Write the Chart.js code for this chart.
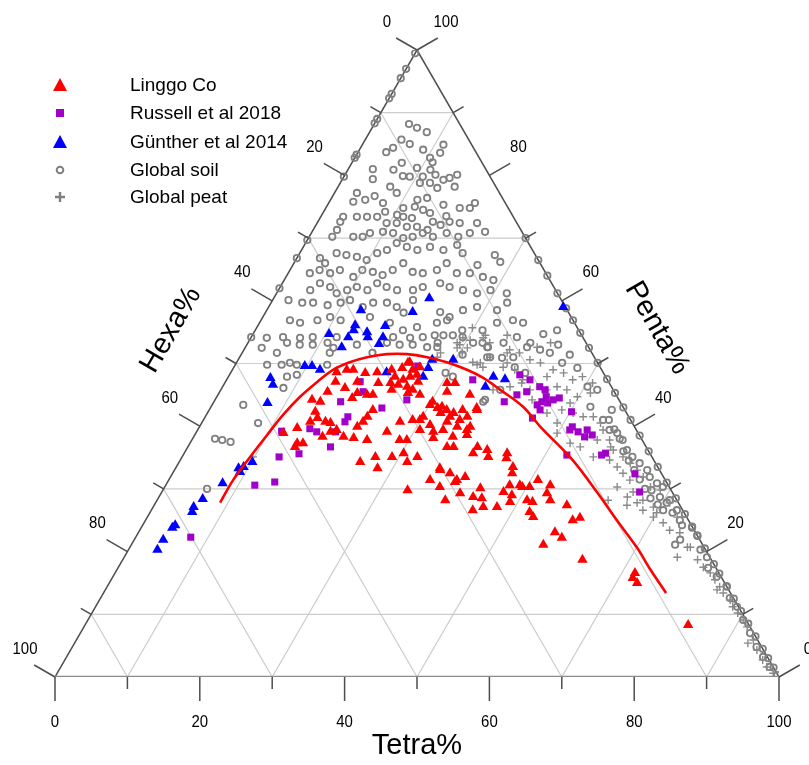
<!DOCTYPE html>
<html>
<head>
<meta charset="utf-8">
<title>Ternary plot</title>
<script src="https://cdn.jsdelivr.net/npm/chart.js@4.4.0/dist/chart.umd.min.js"></script>
<style>
  html, body { margin: 0; padding: 0; background: #fff; }
  #wrap { width: 809px; height: 765px; }
</style>
</head>
<body>
<div id="wrap"><canvas id="ternary" width="809" height="765"></canvas></div>
<script>
// every point is [Tetra%, Penta%]; Hexa% = 100 - Tetra - Penta
const linggoCo = [
  [14.6,48.6],[15.8,49],[16.7,49],[15.2,47.1],[14.9,45.5],[17,46.1],[18.2,47.1],[19.1,45.3],[20.6,45],[18.6,48.5],
  [20.2,48.6],[21.2,46.9],[21.4,45],[22,49],[23,47.9],[23.3,49.3],[23.7,50.1],[24.9,49],[25.9,48.2],[24.4,47.4],
  [25.5,46.3],[23.6,45.8],[26.1,45.3],[26.5,45.8],[27.9,45],[22.9,46.9],[24.1,46.6],[26.6,47.1],[25.1,47.9],[23.9,50.2],
  [25.7,49.4],[13.4,44.2],[14.7,43.9],[18.8,44.5],[14.8,42.3],[14.9,40.7],[15.6,41.3],[17,40.7],[17.8,40.5],[19.2,39.4],
  [18.5,39.1],[17.8,38.3],[20.7,38.3],[21.8,39.9],[22.2,40.7],[22.4,41.5],[22.6,42.6],[22.2,38.1],[24.2,37.8],[13.6,39.7],
  [12.1,38.9],[14.8,37.3],[15.6,37.3],[14.8,36.7],[26.3,39.1],[27.3,40.7],[29.7,37.8],[28.7,37.8],[28.9,41],[29.9,41],
  [30.1,41.5],[30.1,43.4],[31.4,42.9],[32.2,42.1],[32.8,42.6],[34,42.1],[35.4,41],[36.2,41.5],[37.4,39.9],[37.6,38.6],
  [31.7,40.2],[32.7,39.1],[30.7,39.4],[33.8,40.7],[33.9,39.4],[33.2,38.1],[35.8,36.7],[36.7,36.7],[37,42.6],[34.8,45],
  [30.7,46.9],[31.8,46.9],[31.4,45.5],[25,34.3],[26.7,35.1],[29,35.1],[30.3,35.7],[31.5,34.3],[32.5,35.1],[27.9,33.3],
  [36.5,33.3],[38.3,32.5],[40.7,31.9],[36.1,31.4],[38,30.3],[39.7,31.1],[33.8,29.8],[41.3,29.3],[39.8,28.2],[43.4,28.7],
  [43.7,30.1],[40,36.7],[41.6,36.2],[42.3,35.1],[44.6,35.7],[46.5,33.5],[46.9,32.5],[47.5,30.6],[47.2,29.5],[48.6,29],
  [48.9,30.6],[45.6,27.1],[44.4,26.6],[30.2,43.9],[31.9,43.1],[35,42.6],[36.8,42.9],[33.8,41.5],[35.6,39.9],[37.2,39.4],
  [35.8,38.3],[39.9,35.7],[44.9,34.9],[36.7,33],[39.8,31.4],[44.7,28.5],[47.5,27.1],[50.4,30.3],[51,31.4],[53.1,30.6],
  [51.1,28.2],[52,27.9],[53.3,29.3],[54.3,28.2],[52.4,26.3],[57,27.4],[59,25],[59.8,25.4],[49.4,30.3],[48.9,27.9],
  [53.3,25.5],[57.5,23.1],[58.9,22.2],[56.9,21.1],[63.5,18.7],[71.8,16.6],[71.9,15.8],[72.9,15],[83.3,8.3]
];

const russell2018 = [
  [25.3,49.6],[18.6,47.1],[19.8,45.5],[17.5,43.9],[23.7,42.9],[19.7,41.5],[19.7,40.7],[11.7,39.2],[15.4,39.6],[16.6,39.1],
  [19.2,39.1],[19.7,36.7],[13.4,35.1],[15.9,35.6],[12.3,30.6],[14.8,31.1],[7.6,22.3],[34,47.4],[40.1,48.2],[41.9,47.4],
  [41.3,45],[40.1,43.9],[42.4,45.5],[43.8,46.3],[44.8,45.8],[45.5,44.7],[45.3,43.9],[44.9,43.4],[45.7,42.6],[46.2,43.7],
  [46.7,44.2],[47.4,44.5],[45.3,41.3],[50.2,42.3],[51.4,39.4],[51.5,39.9],[52.7,39.1],[53.8,39.4],[54,38.3],[54.9,38.6],
  [53,35.4],[57.8,35.4],[58.2,35.7],[63.9,32.4],[66,29.5],[26.5,44.2]
];

const gunther2014 = [
  [21.5,60.4],[20.3,58.2],[13,58.5],[13.4,56.1],[13.6,55.3],[13.4,54.2],[10.5,54.7],[13.3,52.6],[15.6,55],[16.1,54.2],
  [17.6,56],[18.2,54.2],[18.2,53.1],[29.7,50.6],[26.8,50.6],[9.7,49.6],[10.7,49.6],[12.1,49],[5.9,47.7],[6.8,46.6],
  [7.5,43.7],[21.5,48.6],[26.9,47.9],[26.9,49.3],[36.6,47.9],[38.4,47.5],[36.3,46.3],[10.1,34.3],[9.3,33.5],[9.2,32.7],
  [7.7,30.9],[6.2,28.4],[8.7,33.3],[5.6,27.1],[5.8,26.3],[4.5,24.2],[4.3,23.8],[4,21.9],[4,20.3],[40.7,59]
];

const globalSoil = [
  [4.8,88.2],[6.2,87.6],[7.9,86.9],[5,85.7],[11.2,84.9],[6.5,85],[4.5,84.4],[3.9,83.7],[11.4,83.6],[8.8,84.1],
  [10.4,82.8],[11.1,82.1],[6.9,82],[9.4,81.2],[11.4,80.9],[3.4,81],[6.3,80.9],[8.1,79.9],[9.1,79.8],[10.9,79.8],
  [12.5,80.1],[14.7,79.6],[15.5,80.1],[14,79.3],[4.2,79.4],[11,78.8],[12.4,78.8],[13.8,78],[16.1,78.2],[7.2,78.2],
  [8.6,77.2],[3.1,77.2],[5.8,76.7],[4.8,76.1],[3.3,75.8],[7.5,75.6],[12,76.1],[13.2,76.4],[16,75.3],[18.5,74.8],
  [20.2,75.6],[19.9,74.8],[8.5,74.2],[10.7,74.8],[12.2,75],[13.6,74.5],[10.4,73.7],[11.4,73.4],[12.7,73.2],[14.8,74],
  [15.9,72.6],[17.3,73.5],[5,73.4],[6.4,73.4],[7.8,73.4],[3.1,73.4],[3.1,72.6],[9.6,72.4],[11,72.4],[12.7,71.8],
  [14.1,71.8],[15.8,71.3],[17.2,72.1],[18.2,72.6],[19.7,72.4],[22.1,72.4],[23.9,71],[21.9,70.8],[20.6,70.2],[18.7,70.8],
  [17.1,70.2],[15.4,70.8],[14.3,70.2],[13.1,70],[11.3,70.8],[9.8,71],[8.1,70.8],[7.4,70.2],[6.1,70.2],[3.3,71.3],
  [3.2,70.2],[3.2,66.8],[4.3,66],[5.1,67.6],[6.6,67.3],[8.2,67],[9.8,66.5],[10.7,67.6],[11.8,68.1],[12.6,69.2],
  [14.3,68.6],[16,68.1],[17.5,68.6],[19.6,68.1],[21.1,68.9],[22.5,67.6],[25.5,65.7],[27.1,67.3],[28.4,66.2],[4.1,64.9],
  [5.8,64.4],[6.9,64.9],[9.3,63.8],[10,64.9],[11.6,64.6],[13.2,64.1],[14.2,64.9],[15.1,66],[17.1,64.6],[18.6,64.4],
  [20.3,64.9],[21.1,66],[23.3,64.4],[25.1,64.4],[27.2,63.8],[28.9,63.3],[3,64.4],[4.4,61.7],[5.2,62.8],[6.9,62.2],
  [8.3,61.2],[9.5,61.7],[10.6,62.2],[12.3,61.7],[13.1,62.8],[14.7,62.2],[16.4,61.7],[18.6,61.7],[19.7,62.2],[21.8,62.8],
  [23.4,62.2],[25.5,61.7],[27.7,61.2],[29.3,61.7],[31.8,61.2],[2.2,60.1],[4.3,59.7],[5.8,59.7],[8,59.3],[9.6,59.7],
  [10.7,60.1],[13,59],[14.1,59.7],[16,59.7],[17.7,59],[19.4,60.1],[19.1,58.1],[24.1,58.2],[25.8,57.4],[27.1,58.5],
  [28.8,59],[31.8,58.5],[32.6,59.7],[4,56.9],[5.6,56.5],[7.8,56.9],[9.3,57.4],[11,56.9],[14.8,57.4],[18,56.5],
  [20.4,55.3],[22.1,55.8],[24.5,56.5],[25.7,56.9],[28.6,55.3],[31.4,55.3],[32.8,56.5],[34.8,56.9],[36.4,56.5],[2.2,54.1],
  [4.4,54.2],[6.8,54.1],[8.5,54.2],[11,53.3],[11.8,54.2],[19.6,54.2],[22,54.1],[23.7,54.2],[26.2,53.3],[31.1,53.3],
  [33.4,52.6],[35.3,53.3],[36.7,54.2],[39,53.3],[40.9,52.2],[42.5,51.7],[41.7,55.3],[2.3,52.5],[4.8,51.7],[12.1,51.7],
  [18,51.7],[30.6,51.4],[4.4,49.8],[7.4,50.1],[6.4,49.8],[8.5,49.8],[8.1,47.9],[9.3,48.2],[8.5,46.1],[4.3,43.4],
  [7.8,40.5],[3.1,38],[4.2,37.8],[5.5,37.5],[6,30],[5.4,53.3],[7.3,53],[9.1,53],[12.7,49.8],[12.2,52.5],
  [15.2,53],[19.2,53.3],[21.1,53],[22.9,53],[25.1,52.6],[26.5,52.6],[29.7,48.5],[31,47.9],[32.4,53.3],[34.2,51],
  [38.6,45.8],[37.2,43.9],[38.8,49.4],[37.8,51],[40.7,48.5],[25.2,54.5],[26.4,54.5],[27.7,54.5],[29.2,54.2],[33.5,52.6],
  [34.6,51],[36.3,50.9],[38.9,52.6],[40.1,54.7],[43,53],[45.4,51.4],[45,50.1],[47.5,49.3],[50.4,46.3],[52,45.8],
  [52.4,43.1],[55.2,41],[55.6,42.6],[56.9,39.4],[58.2,38.9],[59.5,37.8],[60.9,36.2],[62.2,35.1],[63.7,34.1],[65.3,33],
  [66.2,31.9],[67.7,30.9],[68.8,30.3],[69.2,28.7],[70.8,28.2],[72.6,26.6],[70.7,26.6],[73.8,25],[37.3,44.2],[67.5,29.8],
  [70.6,27.8],[72.2,26.2],[74.5,24.2],[75.1,21.1],[75.4,21.9],[76.1,23.8],[77.4,22.6],[79,20.3],[80.5,19.1],[81.5,17.4],
  [83.4,16],[85.6,14.4],[86.9,12.6],[88.6,11.2],[90.5,9.1],[92.5,7],[94.5,4.8],[96.2,3.2],[97.9,1.6],[99.6,0.3],
  [56,41],[57.5,39.5],[59,38],[60.5,36],[62,34.5],[63.5,33],[65,31.5],[66.5,30],[68,28.5],[69.5,27.5],
  // sitting on the Tetra = 0 edge
  [0,99.5],[0,97],[0,95.5],[0,93],[0,92.3],[0,89],[0,88.3],[0,83.3],[0,82.8],[0,79.8],[0,69.7],[0,66.8],[0,62],[0,54.2],
  // sitting on the Hexa = 0 edge
  [30,70],[33.5,66.5],[36,64],[38.8,61.2],[41.2,58.8],[43.1,56.9],[45.1,54.9],[47.5,52.5],[49.9,50.1],[52.5,47.5],
  [54.7,45.3],[57,43],[59,41],[61.5,38.5],[64,36],[66.5,33.5],[69,31],[71.5,28.5],[74,26],[76,24],
  [77.5,22.5],[79.5,20.5],[82,18],[83.5,16.5],[85.5,14.5],[87.5,12.5],[89.5,10.5],[91.5,8.5],[93.5,6.5],[95.5,4.5],
  [97,3],[98.5,1.5]
];

const globalPeat = [
  [29.8,55.7],[29.3,54.1],[32.2,54.5],[28.9,53.3],[36.6,51.7],[40.3,52.6],[41.8,53.3],[29.3,52.5],[30.7,52.5],[33.4,49.8],
  [34.4,49.4],[34.6,51],[37.2,49.4],[39.7,46.3],[41,46.9],[37.6,45.8],[27.4,51.7],[30.4,51.7],[32.6,50.2],[33.7,50.1],
  [35.2,54.5],[37.4,50.1],[39,49],[40.9,47.4],[42.7,45.8],[43.8,44.2],[45,45.8],[46.9,42.1],[49.1,40.5],[48.7,42.6],
  [49.3,43.7],[49.8,44.7],[51.3,45.3],[50.8,46.9],[49.9,38.9],[52.5,37.3],[54.2,36.7],[54.4,38.3],[56,37.8],[58.4,36.7],
  [56.8,35.1],[59.3,34.6],[60.9,33.5],[62.2,32.5],[63.7,31.4],[62.5,30.3],[64.7,28.7],[66.5,27.8],[67.9,26.6],[69.9,25.5],
  [71.7,24.6],[27.3,51],[30.5,53.7],[29.4,53],[32.1,54.1],[33.4,53.3],[36.7,52.2],[38.3,51.7],[40.3,50.6],[42,50.1],
  [44.3,49],[46,48.5],[47.8,47.4],[48.9,47.9],[44,47.9],[46.2,46.3],[47.8,45.8],[50.5,42.1],[52.2,41.5],[53.6,41.5],
  [55.1,40.5],[56,39.4],[57.7,37.8],[59,36.2],[60.9,35.1],[62.4,34.1],[63.9,33],[65.3,31.9],[67.1,30.3],[68.7,29.8],
  [71,27.8],[73.2,25.5],[65.3,27.4],[62.3,28.2],[65.1,29.5],[67.1,28.2],[69.1,27.1],[70,26.2],[73.2,23.4],[74.8,23],
  [77,20.7],[76.4,19.1],[77.4,20.7],[79.4,18.7],[80.8,17.5],[82.2,16.6],[83.4,15.5],[84.6,14.4],[85.6,13.4],[87.1,12.3],
  [88,11.2],[89.2,10.2],[90.5,9.1],[91.6,8],[93,5.4],[93.5,5.9],[94.8,4.3],[96.4,2.7],[97.5,1.6],[98.9,0.6],
  [84.5,13.9],[9.8,35.1]
];

// red fitted curve through the Linggo Co samples
const fitCurve = [
  [8.9,27.8],[8.9,31.4],[9.4,35.1],[10,38.6],[10.6,41.8],[11.5,44.7],[12.7,47.1],[13.9,49],[15.6,50.2],[17.6,51],
  [20.1,51.5],[22.9,51.5],[25.9,51],[29,50.2],[32.4,49],[35.3,47.7],[38.6,45.8],[43.1,43.1],[47.1,39.9],[54.2,34.6],
  [60.1,29.5],[65.1,25],[70.1,20.6],[73.7,17.1],[77.7,13.4]
];

const tickValues = [0, 20, 40, 60, 80, 100];
const minorValues = [10, 30, 50, 70, 90];
const legendLabels = ['Linggo Co', 'Russell et al 2018', 'Günther et al 2014', 'Global soil', 'Global peat'];

const SIN60 = Math.sqrt(3) / 2;
const toXY = ([t, p]) => ({ x: t + p / 2, y: p * SIN60 });

function lineSet(a, b, color, width, order) {
  return {
    type: 'line', data: [toXY(a), toXY(b)], borderColor: color, borderWidth: width,
    pointRadius: 0, fill: false, order: order
  };
}

const gridSets = [];
minorValues.forEach(v => {
  gridSets.push(lineSet([0, v], [100 - v, v], '#cccccc', 1.2, 20));   // Penta const
  gridSets.push(lineSet([v, 0], [v, 100 - v], '#cccccc', 1.2, 20));   // Tetra const
  gridSets.push(lineSet([100 - v, 0], [0, 100 - v], '#cccccc', 1.2, 20)); // Hexa const
});

const frameSets = [
  lineSet([0, 0], [100, 0], '#8c8c8c', 2.6, 15),
  lineSet([0, 0], [0, 100], '#4d4d4d', 1.5, 15),
  lineSet([100, 0], [0, 100], '#4d4d4d', 1.5, 15)
];

const ternaryAxes = {
  id: 'ternaryAxes',
  afterDraw(chart) {
    const { ctx, scales: { x, y } } = chart;
    const px = (t, p) => [x.getPixelForValue(t + p / 2), y.getPixelForValue(p * SIN60)];
    ctx.save();
    ctx.strokeStyle = '#4d4d4d';
    ctx.lineWidth = 1.5;
    const all = tickValues.concat(minorValues);
    all.forEach(v => {
      const len = v % 20 === 0 ? 24 : 12;
      let a = px(v, 0);
      ctx.beginPath(); ctx.moveTo(a[0], a[1]); ctx.lineTo(a[0], a[1] + len); ctx.stroke();
      a = px(0, 100 - v);
      ctx.beginPath(); ctx.moveTo(a[0], a[1]); ctx.lineTo(a[0] - len * SIN60, a[1] - len * 0.5); ctx.stroke();
      a = px(100 - v, v);
      ctx.beginPath(); ctx.moveTo(a[0], a[1]); ctx.lineTo(a[0] + len * SIN60, a[1] - len * 0.5); ctx.stroke();
    });

    // tick labels, slightly narrow like the original
    ctx.fillStyle = '#000';
    ctx.font = '17px "Liberation Sans", Arial, sans-serif';
    ctx.textAlign = 'center';
    ctx.textBaseline = 'middle';
    const narrow = (txt, cx, cy) => {
      ctx.save(); ctx.translate(cx, cy); ctx.scale(0.88, 1); ctx.fillText(txt, 0, 0); ctx.restore();
    };
    tickValues.forEach(v => {
      let a = px(v, 0);
      narrow(String(v), a[0], 722);
      a = px(0, 100 - v);
      narrow(String(v), a[0] - 30, a[1] - 28);
      a = px(100 - v, v);
      narrow(String(v), a[0] + 29, a[1] - 28);
    });

    // axis titles
    ctx.font = '29px "Liberation Sans", Arial, sans-serif';
    ctx.fillText('Tetra%', 417, 746);
    ctx.save(); ctx.translate(171, 330); ctx.rotate(-Math.PI / 3); ctx.fillText('Hexa%', 0, 0); ctx.restore();
    ctx.save(); ctx.translate(657, 328); ctx.rotate(Math.PI / 3); ctx.fillText('Penta%', 0, 0); ctx.restore();

    // legend
    const rows = [85, 113, 142, 170, 197];
    const sx = 60;
    const tri = (cy, color) => {
      ctx.fillStyle = color; ctx.beginPath();
      ctx.moveTo(sx, cy - 7); ctx.lineTo(sx + 7, cy + 6); ctx.lineTo(sx - 7, cy + 6); ctx.closePath(); ctx.fill();
    };
    tri(rows[0], '#ff0000');
    ctx.fillStyle = '#a000c8'; ctx.fillRect(sx - 4, rows[1] - 4, 8, 8);
    tri(rows[2], '#0000ff');
    ctx.strokeStyle = '#7f7f7f'; ctx.lineWidth = 2;
    ctx.beginPath(); ctx.arc(sx, rows[3], 3.3, 0, Math.PI * 2); ctx.stroke();
    ctx.lineWidth = 2.4;
    ctx.beginPath(); ctx.moveTo(sx - 5, rows[4]); ctx.lineTo(sx + 5, rows[4]);
    ctx.moveTo(sx, rows[4] - 5); ctx.lineTo(sx, rows[4] + 5); ctx.stroke();
    ctx.fillStyle = '#000';
    ctx.font = '19px "Liberation Sans", Arial, sans-serif';
    ctx.textAlign = 'left';
    legendLabels.forEach((txt, i) => ctx.fillText(txt, 130, rows[i] + 1));
    ctx.restore();
  }
};

new Chart(document.getElementById('ternary'), {
  type: 'scatter',
  data: {
    datasets: [
      { type: 'line', label: 'fit', data: fitCurve.map(toXY), borderColor: '#ff0000', borderWidth: 2.6,
        pointRadius: 0, tension: 0.35, fill: false, order: 1 },
      { label: legendLabels[0], data: linggoCo.map(toXY), pointStyle: 'triangle', radius: 6,
        backgroundColor: '#ff0000', borderColor: '#ff0000', borderWidth: 0, order: 2 },
      { label: legendLabels[1], data: russell2018.map(toXY), pointStyle: 'rect', radius: 5,
        backgroundColor: '#a000c8', borderColor: '#a000c8', borderWidth: 0, order: 3 },
      { label: legendLabels[2], data: gunther2014.map(toXY), pointStyle: 'triangle', radius: 6,
        backgroundColor: '#0000ff', borderColor: '#0000ff', borderWidth: 0, order: 4 },
      { label: legendLabels[4], data: globalPeat.map(toXY), pointStyle: 'cross', radius: 4,
        backgroundColor: '#8a8a8a', borderColor: '#8a8a8a', borderWidth: 1.4, order: 5 },
      { label: legendLabels[3], data: globalSoil.map(toXY), pointStyle: 'circle', radius: 3.2,
        backgroundColor: 'rgba(255,255,255,0)', borderColor: '#808080', borderWidth: 1.8, order: 6 },
      ...frameSets,
      ...gridSets
    ]
  },
  options: {
    responsive: false,
    animation: false,
    events: [],
    layout: { padding: { left: 55, right: 30, top: 50, bottom: 88 } },
    scales: {
      x: { type: 'linear', min: 0, max: 100, display: false },
      y: { type: 'linear', min: 0, max: 100 * SIN60, display: false }
    },
    plugins: { legend: { display: false }, tooltip: { enabled: false } }
  },
  plugins: [ternaryAxes]
});
</script>
</body>
</html>
